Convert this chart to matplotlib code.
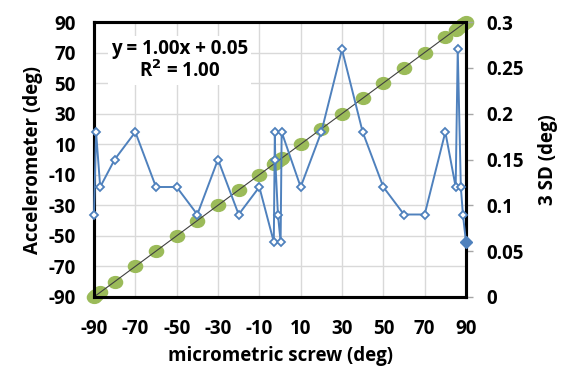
import matplotlib
matplotlib.use("Agg")
import matplotlib.pyplot as plt
from matplotlib.markers import MarkerStyle
from matplotlib.transforms import Affine2D
import numpy as np

plt.rcParams['font.family'] = ['Open Sans', 'DejaVu Sans']
plt.rcParams['font.weight'] = 'bold'
plt.rcParams['axes.unicode_minus'] = False

# Data
screw = [-90, -89, -87, -80, -70, -60, -50, -40, -30, -20, -10, -3, -2.5, -2.3, -1, 0.3, 0.8,
         10, 20, 30, 40, 50, 60, 70, 80, 85, 86, 87.5, 88.5, 90]
accel = [-90, -89, -87, -80, -70, -60, -50, -40, -30, -20, -10, -3, -2.5, -2.3, -1, 0.3, 0.8,
         10, 20, 30, 40, 50, 60, 70, 80, 85, 86, 87.5, 88.5, 90]
sd3 = [0.09, 0.18, 0.12, 0.15, 0.18, 0.12, 0.12, 0.09, 0.15, 0.09, 0.12, 0.06, 0.18, 0.15, 0.09,
       0.06, 0.18, 0.12, 0.18, 0.27, 0.18, 0.12, 0.09, 0.09, 0.18, 0.12, 0.27, 0.12, 0.09, 0.06]
fit_slope, fit_intercept = 1.00, 0.05
x_ticks = [-90, -70, -50, -30, -10, 10, 30, 50, 70, 90]
y_ticks = [-90, -70, -50, -30, -10, 10, 30, 50, 70, 90]
y2_ticks = [0, 0.05, 0.1, 0.15, 0.2, 0.25, 0.3]

green = '#9BBB59'
blue = '#4F81BD'
FS = 13.5

fig = plt.figure(figsize=(5.65, 3.66), dpi=100)
ax = fig.add_axes([94/565, 1-297/366, 372/565, 275/366])

ax.set_xlim(-90, 90)
ax.set_ylim(-90, 90)
ax.set_xticks(x_ticks)
ax.set_yticks(y_ticks)
ax.grid(True, color='#d9d9d9', lw=1)
ax.set_axisbelow(True)

ell = MarkerStyle('o', transform=Affine2D().scale(1.2, 1.0))
ax.plot(screw, accel, ls='none', marker=ell, ms=8.5, mfc=green, mec=green, zorder=3, clip_on=False)
xf = np.array([-90, 90])
ax.plot(xf, fit_slope*xf + fit_intercept, color='#404040', lw=0.8, zorder=4, clip_on=False)

for s in ax.spines.values():
    s.set_linewidth(2.2)
    s.set_color('black')
ax.tick_params(axis='both', length=0, labelsize=FS)
ax.tick_params(axis='y', pad=13)
ax.tick_params(axis='x', pad=16)
for lab in ax.get_xticklabels() + ax.get_yticklabels():
    lab.set_fontweight('bold')

ax.set_xlabel('micrometric screw (deg)', fontsize=FS, fontweight='bold', labelpad=5)
ax.set_ylabel('Accelerometer (deg)', fontsize=FS, fontweight='bold', labelpad=4)

ax.text(0.23, 0.86, 'y = 1.00x + 0.05\nR$^\\mathbf{2}$ = 1.00', transform=ax.transAxes, ha='center', va='center',
        ma='center', fontsize=FS, fontweight='bold', linespacing=1.1,
        bbox=dict(facecolor='white', edgecolor='none', pad=2), zorder=5)

ax2 = ax.twinx()
ax2.set_ylim(0, 0.3)
ax2.set_yticks(y2_ticks)
ax2.set_yticklabels(['%g' % v for v in y2_ticks])
ax2.plot(screw, sd3, color=blue, lw=1.4, marker='D', ms=4.5, mfc='white', mec=blue, mew=1.3, clip_on=False, zorder=3)
ax2.plot(screw[-1:], sd3[-1:], ls='none', marker='D', ms=6.5, mfc=blue, mec=blue, clip_on=False, zorder=4)
for s in ax2.spines.values():
    s.set_linewidth(2.2)
    s.set_color('black')
ax2.tick_params(axis='y', length=5, width=1, color='#a6a6a6', labelsize=FS, pad=10)
for lab in ax2.get_yticklabels():
    lab.set_fontweight('bold')
ax2.set_ylabel('3 SD (deg)', fontsize=FS, fontweight='bold', labelpad=10)

fig.savefig('out.png', dpi=100)
